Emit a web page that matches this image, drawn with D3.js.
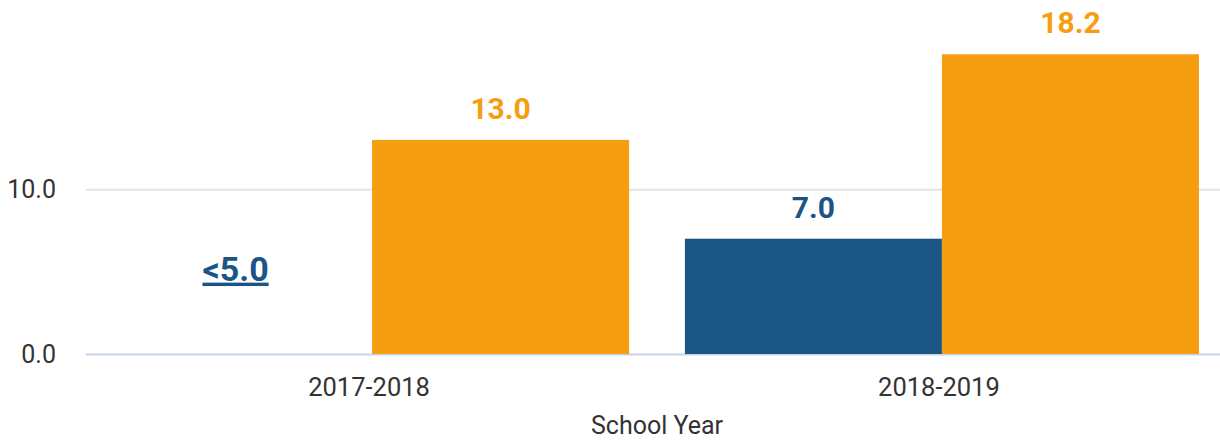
<!DOCTYPE html>
<html>
<head>
<meta charset="utf-8">
<script src="https://cdn.jsdelivr.net/npm/d3@7/dist/d3.min.js"></script>
<style>
  body { margin: 0; background: #fff; }
  text { font-family: Roboto, "Noto Sans", sans-serif; }
</style>
</head>
<body>
<svg width="1220" height="443"></svg>
<script>
// data
var years = ['2017-2018', '2018-2019'];
var seriesNames = ['blue', 'orange'];
var blueValues = [null, 7.0];      // null = suppressed (<5.0)
var orangeValues = [13.0, 18.2];
var blueLabels = ['<5.0', '7.0'];
var orangeLabels = ['13.0', '18.2'];
var yTicks = [0, 10];

var colors = { blue: '#1b5586', orange: '#f59e12' };

var svg = d3.select('svg');

var x0 = d3.scaleBand().domain(years).range([86, 1228])
  .paddingInner(0.098).paddingOuter(0.051);
var x1 = d3.scaleBand().domain(seriesNames).range([0, x0.bandwidth()]);
var y = d3.scaleLinear().domain([0, 10]).range([354, 189.3]);

// gridlines + y labels
svg.selectAll('.grid').data(yTicks).enter().append('line')
  .attr('x1', 86).attr('x2', 1220)
  .attr('y1', function(d){ return y(d) + 0.5 })
  .attr('y2', function(d){ return y(d) + 0.5 })
  .attr('stroke', function(d){ return d === 0 ? '#c8d3e6' : '#e3e3e3' })
  .attr('stroke-width', 2);

svg.selectAll('.ylab').data(yTicks).enter().append('text')
  .attr('x', 56).attr('y', function(d){ return y(d) })
  .attr('dy', '0.35em')
  .attr('text-anchor', 'end')
  .attr('font-size', 25)
  .attr('fill', '#333')
  .text(function(d){ return d.toFixed(1) });

// bars
var rows = years.map(function(yr, i){
  return [
    { key: 'blue', year: yr, v: blueValues[i], label: blueLabels[i] },
    { key: 'orange', year: yr, v: orangeValues[i], label: orangeLabels[i] }
  ];
});

var groups = svg.selectAll('g.year').data(rows).enter().append('g')
  .attr('class', 'year')
  .attr('transform', function(d){ return 'translate(' + x0(d[0].year) + ',0)' });

groups.selectAll('rect').data(function(d){ return d.filter(function(e){ return e.v !== null }) })
  .enter().append('rect')
  .attr('x', function(d){ return x1(d.key) })
  .attr('width', x1.bandwidth())
  .attr('y', function(d){ return y(d.v) })
  .attr('height', function(d){ return y(0) - y(d.v) })
  .attr('fill', function(d){ return colors[d.key] });

groups.selectAll('text.val').data(function(d){ return d })
  .enter().append('text')
  .attr('class', 'val')
  .attr('x', function(d){ return x1(d.key) + x1.bandwidth() / 2 - (d.v === null ? 8 : 0) })
  .attr('y', function(d){ return d.v === null ? y(5) + 9 : y(d.v) - 21 })
  .attr('text-anchor', 'middle')
  .attr('font-size', function(d){ return d.v === null ? 34 : 30 })
  .attr('font-weight', 'bold')
  .attr('fill', function(d){ return colors[d.key] })
  .attr('text-decoration', function(d){ return d.v === null ? 'underline' : null })
  .text(function(d){ return d.label });

// x labels
svg.selectAll('.xlab').data(years).enter().append('text')
  .attr('x', function(d){ return x0(d) + x0.bandwidth() / 2 - 3 })
  .attr('y', 396)
  .attr('text-anchor', 'middle')
  .attr('font-size', 25.5)
  .attr('fill', '#333')
  .text(function(d){ return d });

svg.append('text')
  .attr('x', 657).attr('y', 434)
  .attr('text-anchor', 'middle')
  .attr('font-size', 25)
  .attr('fill', '#333')
  .text('School Year');
</script>
</body>
</html>
